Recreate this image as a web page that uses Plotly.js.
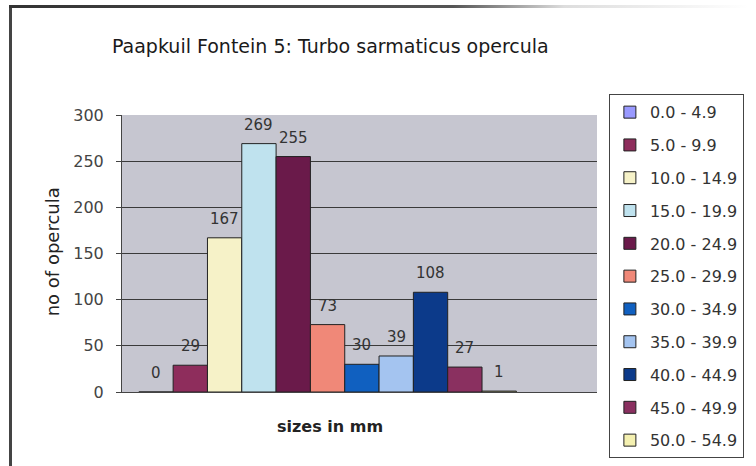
<!DOCTYPE html>
<html><head><meta charset="utf-8">
<script src="https://cdn.plot.ly/plotly-3.0.1.min.js"></script>
<style>
html,body{margin:0;padding:0;background:#fff;}
#wrap{position:relative;width:756px;height:466px;overflow:hidden;}
#chart{position:absolute;left:0;top:0;width:756px;height:466px;}
#lb{position:absolute;left:9px;top:6px;width:3px;height:460px;background:#444;}
#tb{position:absolute;left:9px;top:5px;width:740px;height:3px;background:linear-gradient(to right,#333,#555 60%,#ddd 75%,#fff);}
</style></head>
<body><div id="wrap"><div id="chart"></div><div id="lb"></div><div id="tb"></div></div>
<script>
const sizeClasses = ["0.0 - 4.9","5.0 - 9.9","10.0 - 14.9","15.0 - 19.9","20.0 - 24.9","25.0 - 29.9","30.0 - 34.9","35.0 - 39.9","40.0 - 44.9","45.0 - 49.9","50.0 - 54.9"];
const counts = [0, 29, 167, 269, 255, 73, 30, 39, 108, 27, 1];
const colors = ["#9999FF","#8E2D5C","#F6F2C8","#BFE2EE","#6A1A4A","#F08878","#1060C0","#A4C4F0","#0C3A8A","#8A3060","#F4F0B0"];
const yTicks = [0, 50, 100, 150, 200, 250, 300];

const FONT = 'DejaVu Sans, Arial, sans-serif';

const traces = sizeClasses.map((c, i) => ({
  type: 'bar',
  name: c,
  x: [c],
  y: [counts[i]],
  legendgroup: 'g' + i,
  marker: {color: colors[i], line: {color: '#222', width: 1}},
  width: 1,
  hoverinfo: 'none'
}));

const annotations = sizeClasses.map((c, i) => ({
  x: c, y: counts[i], xref: 'x', yref: 'y',
  text: String(counts[i]), showarrow: false, yshift: 19,
  font: {family: FONT, size: 15, color: '#333'}
}));
annotations.push({
  xref: 'paper', yref: 'paper', x: 0.437, y: -0.126, xanchor: 'center', yanchor: 'middle',
  text: 'sizes in mm', showarrow: false,
  font: {family: FONT, size: 16, color: '#222', weight: 'bold'}
});
annotations.push({
  xref: 'paper', yref: 'paper', x: -0.147, y: 0.505, xanchor: 'center', yanchor: 'middle',
  text: 'no of opercula', showarrow: false, textangle: -90,
  font: {family: FONT, size: 18, color: '#222'}
});

const layout = {
  width: 756, height: 466,
  margin: {l: 122, r: 151, t: 115, b: 74},
  paper_bgcolor: '#ffffff',
  plot_bgcolor: '#C6C6D0',
  barmode: 'overlay',
  bargap: 0,
  showlegend: true,
  title: {text: 'Paapkuil Fontein 5: Turbo sarmaticus opercula', x: 0.437, xanchor: 'center', y: 0.9, yanchor: 'middle',
          font: {family: FONT, size: 19, color: '#1a1a1a'}},
  xaxis: {type: 'category', categoryorder: 'array', categoryarray: sizeClasses,
          range: [-0.99, 12.85], showticklabels: false, ticks: '', showgrid: false, zeroline: false,
          showline: true, linecolor: '#444', linewidth: 1},
  yaxis: {range: [0, 300], tickvals: yTicks, ticktext: yTicks.map(String), showgrid: true, gridcolor: '#3a3a3a', gridwidth: 1,
          zeroline: false, showline: true, linecolor: '#444', linewidth: 1, ticks: 'outside', ticklen: 5, tickcolor: '#444',
          ticklabelstandoff: 9,
          tickfont: {family: FONT, size: 16, color: '#444'}},
  legend: {x: 1.025, xanchor: 'left', y: 1.075, yanchor: 'top', bgcolor: '#fff', bordercolor: '#444', borderwidth: 1,
           tracegroupgap: 9, itemwidth: 30, entrywidth: 96, maxheight: 440,
           font: {family: FONT, size: 16, color: '#333'}},
  annotations: annotations
};

Plotly.newPlot('chart', traces, layout, {displayModeBar: false, staticPlot: true});
</script></body></html>
